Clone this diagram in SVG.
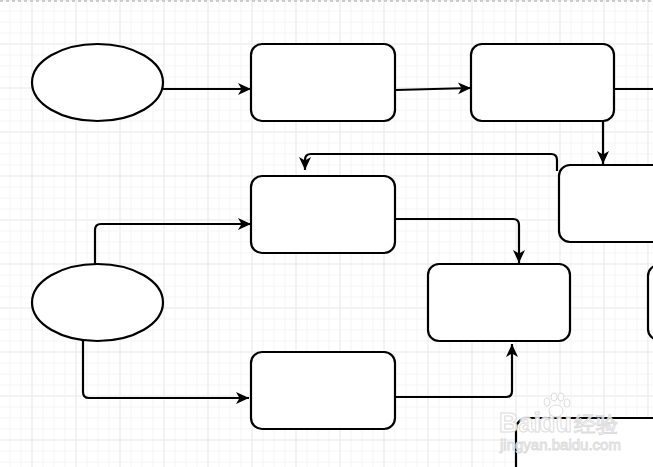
<svg xmlns="http://www.w3.org/2000/svg" width="653" height="467" viewBox="0 0 653 467">
<defs>
<pattern id="minor" x="9.5" y="-0.5" width="11" height="11" patternUnits="userSpaceOnUse">
<path d="M0.5,0 V11 M0,0.5 H11" stroke="#f5f5f5" stroke-width="1" fill="none"/>
</pattern>
<pattern id="major" x="31.5" y="-0.5" width="44" height="44" patternUnits="userSpaceOnUse">
<path d="M0.5,0 V44 M0,0.5 H44" stroke="#ebebeb" stroke-width="1" fill="none"/>
</pattern>
<marker id="arr" markerUnits="userSpaceOnUse" markerWidth="15" markerHeight="14" refX="13" refY="7" orient="auto">
<path d="M0,1 L13,7 L0,13 L3.5,7 Z" fill="#000"/>
</marker>
<style>
.n{fill:#fff;stroke:#000;stroke-width:2.2}
.c{fill:none;stroke:#000;stroke-width:2.2}
.wm{font-family:"Liberation Sans",Arial,sans-serif;fill:#fff;stroke:#dadada;stroke-width:1;opacity:0.9}
</style>
</defs>
<rect width="653" height="467" fill="#fff"/>
<rect width="653" height="467" fill="url(#minor)"/>
<rect width="653" height="467" fill="url(#major)"/>
<line x1="0" y1="1" x2="653" y2="1" stroke="#cccccc" stroke-width="2" stroke-dasharray="3 3"/>

<g id="connectors">
<path class="c" d="M163,89 L251,89" marker-end="url(#arr)"/>
<path class="c" d="M396,90 L471,88" marker-end="url(#arr)"/>
<path class="c" d="M614,89 L653,89"/>
<path class="c" d="M603,121 L603,164" marker-end="url(#arr)"/>
<path class="c" d="M557,171 L557,160 Q557,154 551,154 L311,154 Q305,154 305,160 L305,170" marker-end="url(#arr)"/>
<path class="c" d="M396,219 L513,219 Q519,219 519,225 L519,263" marker-end="url(#arr)"/>
<path class="c" d="M95,264 L95,230 Q95,224 101,224 L251,224" marker-end="url(#arr)"/>
<path class="c" d="M83,341 L83,392 Q83,398 89,398 L249,398" marker-end="url(#arr)"/>
<path class="c" d="M396,397 L506,397 Q512,397 512,391 L512,344" marker-end="url(#arr)"/>
</g>

<g id="start1"><ellipse class="n" cx="97.5" cy="82.5" rx="65.5" ry="38.5"/></g>
<g id="boxA"><rect class="n" x="251" y="44" width="144" height="77" rx="11"/></g>
<g id="boxB"><rect class="n" x="471" y="44" width="143" height="77" rx="11"/></g>
<g id="boxC"><rect class="n" x="559" y="165" width="120" height="77" rx="11"/></g>
<g id="boxD"><rect class="n" x="251" y="176" width="144" height="77" rx="11"/></g>
<g id="start2"><ellipse class="n" cx="97.5" cy="302.5" rx="65.5" ry="38.5"/></g>
<g id="boxE"><rect class="n" x="428" y="264" width="142" height="77" rx="11"/></g>
<g id="boxF"><rect class="n" x="648" y="265" width="60" height="75" rx="11"/></g>
<g id="boxG"><rect class="n" x="251" y="352" width="144" height="77" rx="11"/></g>
<g id="boxH"><rect class="n" x="516" y="418" width="200" height="100" rx="11"/></g>

<g id="watermark">
<text class="wm" x="499" y="432" font-size="27" font-weight="bold">Bai</text>
<text class="wm" x="539" y="432" font-size="27" font-weight="bold">du</text>
<g fill="#fff" stroke="#dadada" stroke-width="1" opacity="0.9">
<ellipse cx="556" cy="411" rx="7" ry="6"/>
<ellipse cx="547" cy="402" rx="3" ry="4"/>
<ellipse cx="554" cy="397" rx="3" ry="4"/>
<ellipse cx="561" cy="397" rx="3" ry="4"/>
<ellipse cx="567" cy="403" rx="3" ry="4"/>
</g>
<text class="wm" x="574" y="432" font-size="22" font-family="'Noto Sans CJK SC',sans-serif">经验</text>
<text class="wm" x="500" y="450" font-size="15">jingyan.baidu.com</text>
</g>
</svg>
